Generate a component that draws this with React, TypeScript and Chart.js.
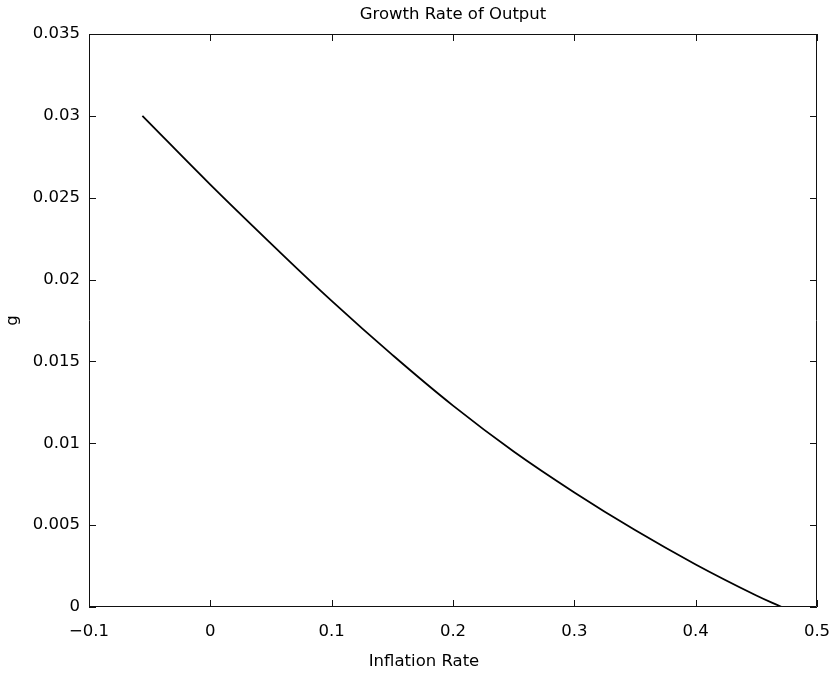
import React, { useEffect, useRef } from "react";
import { Chart, registerables } from "chart.js";

Chart.register(...registerables);

const inflationRate = [-0.056, 0, 0.05, 0.1, 0.15, 0.2, 0.25, 0.3, 0.35, 0.4, 0.45, 0.471];
const growthRate = [0.03, 0.0258, 0.0222, 0.0187, 0.0154, 0.0123, 0.0095, 0.007, 0.0047, 0.0026, 0.0007, 0];

const chartTitle = "Growth Rate of Output";
const xTitle = "Inflation Rate";
const yTitle = "g";

const FONT = "'DejaVu Sans', sans-serif";
const FS = 16.5;

const boxTicks = {
  id: "boxTicks",
  afterDraw(chart: any) {
    const { ctx, chartArea } = chart;
    const { left, right, top, bottom } = chartArea;
    const xs = chart.scales.x;
    const ys = chart.scales.y;
    const L = 7;
    ctx.save();
    ctx.strokeStyle = "#111";
    ctx.lineWidth = 1;
    ctx.beginPath();
    ctx.rect(left + 0.5, top + 0.5, right - left - 1, bottom - top - 1);
    ctx.stroke();
    ctx.beginPath();
    xs.ticks.forEach((t: any) => {
      const px = Math.round(xs.getPixelForValue(t.value)) + 0.5;
      ctx.moveTo(px, bottom);
      ctx.lineTo(px, bottom - L);
      ctx.moveTo(px, top);
      ctx.lineTo(px, top + L);
    });
    ys.ticks.forEach((t: any) => {
      const py = Math.round(ys.getPixelForValue(t.value)) + 0.5;
      ctx.moveTo(left, py);
      ctx.lineTo(left + L, py);
      ctx.moveTo(right, py);
      ctx.lineTo(right - L, py);
    });
    ctx.stroke();
    // x-axis title (sits slightly left of the axis centre in the reference)
    ctx.fillStyle = "#000";
    ctx.font = `${FS}px ${FONT}`;
    ctx.textAlign = "center";
    ctx.textBaseline = "middle";
    ctx.fillText(xTitle, (left + right) / 2 - 29, bottom + 55);
    ctx.restore();
  },
};

export default function App() {
  const ref = useRef<HTMLCanvasElement | null>(null);
  useEffect(() => {
    if (!ref.current) return;
    const chart = new Chart(ref.current, {
      type: "scatter",
      data: {
        datasets: [
          {
            data: inflationRate.map((x, i) => ({ x, y: growthRate[i] })),
            showLine: true,
            borderColor: "#000",
            borderWidth: 1.8,
            pointRadius: 0,
            tension: 0.4,
          } as any,
        ],
      },
      plugins: [boxTicks],
      options: {
        responsive: false,
        animation: false,
        layout: { padding: { left: 0, right: 17, top: 0, bottom: 0 } },
        plugins: {
          legend: { display: false },
          tooltip: { enabled: false },
          title: {
            display: true,
            fullSize: false,
            text: chartTitle,
            color: "#000",
            font: { family: FONT, size: FS, weight: "normal" },
            padding: { top: 5, bottom: 9.2 },
          },
        },
        scales: {
          x: {
            type: "linear",
            min: -0.1,
            max: 0.5,
            grid: { display: false, drawTicks: false },
            border: { display: false },
            ticks: {
              stepSize: 0.1,
              padding: 15,
              color: "#000",
              font: { family: FONT, size: FS },
              maxRotation: 0,
              callback: (v: any) => String(Number(Number(v).toFixed(1))).replace("-", "\u2212"),
            },
            title: { display: false },
            afterFit: (s: any) => {
              s.height = 74;
              s.paddingLeft = 0;
              s.paddingRight = 0;
            },
          },
          y: {
            type: "linear",
            min: 0,
            max: 0.035,
            grid: { display: false, drawTicks: false },
            border: { display: false },
            ticks: {
              stepSize: 0.005,
              padding: 9,
              color: "#000",
              font: { family: FONT, size: FS },
              callback: (v: any) => String(Number(Number(v).toFixed(3))),
            },
            title: {
              display: true,
              text: yTitle,
              color: "#000",
              font: { family: FONT, size: FS },
              padding: { top: 3, bottom: 0 },
            },
            afterFit: (s: any) => {
              s.width = 89;
              s.paddingTop = 0;
              s.paddingBottom = 0;
            },
          },
        },
      },
    });
    return () => chart.destroy();
  }, []);
  return (
    <canvas
      ref={ref}
      width={834}
      height={681}
      style={{ position: "absolute", left: 0, top: 0, display: "block", background: "#fff" }}
    />
  );
}
